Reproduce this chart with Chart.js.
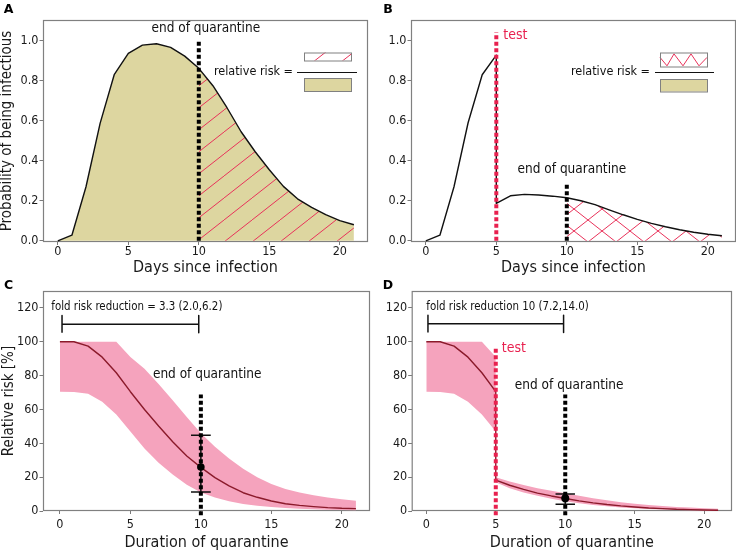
<!DOCTYPE html>
<html>
<head>
<meta charset="utf-8">
<script src="https://cdn.jsdelivr.net/npm/chart.js@4.4.1/dist/chart.umd.min.js"></script>
<style>
  html, body { margin: 0; padding: 0; background: #fff; }
  #wrap { position: relative; width: 736px; height: 552px; }
  #wrap canvas { position: absolute; left: 0; top: 0; }
</style>
</head>
<body>
<div id="wrap">
  <canvas id="pA" width="736" height="552"></canvas>
  <canvas id="pB" width="736" height="552"></canvas>
  <canvas id="pC" width="736" height="552"></canvas>
  <canvas id="pD" width="736" height="552"></canvas>
</div>
<script>
// ---- data ----
const days = [0,1,2,3,4,5,6,7,8,9,10,11,12,13,14,15,16,17,18,19,20,21];
const xTicks = [0, 5, 10, 15, 20];
const probTicks = [0, 0.2, 0.4, 0.6, 0.8, 1.0];
const riskTicks = [0, 20, 40, 60, 80, 100, 120];

const testDay = 5;
const quarantineEnd = 10;

// A: probability of being infectious, no test
const infectious = [0, 0.028, 0.27, 0.587, 0.83, 0.937, 0.978, 0.985, 0.967, 0.923, 0.862,
  0.775, 0.665, 0.545, 0.445, 0.355, 0.272, 0.21, 0.167, 0.131, 0.101, 0.08];

// B: with a test on day 5 (days 0-5, then days 5-21)
const infectiousBeforeTest = [0, 0.028, 0.27, 0.59, 0.83, 0.928];
const infectiousAfterTest = [0.187, 0.225, 0.232, 0.229, 0.223, 0.215, 0.2, 0.181, 0.155,
  0.13, 0.107, 0.087, 0.07, 0.055, 0.043, 0.033, 0.025];

// C: relative risk [%] vs quarantine duration
const riskMedian = [100, 100, 97.4, 90.9, 81.7, 70.5, 60, 50.2, 40.9, 32.5, 25.8,
  19.7, 14.8, 10.8, 8.1, 5.9, 4.3, 3.3, 2.6, 2.0, 1.6, 1.4];
const riskUpper = [100, 100, 100, 100, 100, 91, 84, 75, 65.5, 55.5, 46,
  38, 31, 25, 20, 16, 13, 11, 9.3, 8, 7, 6];
const riskLower = [70.5, 70.3, 69.3, 64.5, 57, 47, 37, 28.5, 21.5, 15.5, 11,
  8, 5.8, 4.2, 3.1, 2.3, 1.7, 1.3, 1, 0.8, 0.6, 0.5];

// D: with test on day 5 (after-test part, days 5-21)
const testMedianAfter = [18.3, 15.2, 12.8, 10.6, 8.9, 7.4, 6, 4.8, 3.8, 3.0, 2.4, 1.8, 1.4, 1.0, 0.8, 0.6, 0.4];
const testUpperAfter = [20, 17.5, 15.4, 13.5, 11.9, 10.5, 9, 7.6, 6.3, 5.2, 4.3, 3.5, 2.9, 2.4, 2, 1.6, 1.3];
const testLowerAfter = [17, 13.5, 11, 9, 7.2, 5.8, 4.6, 3.6, 2.8, 2.1, 1.6, 1.2, 0.9, 0.6, 0.4, 0.3, 0.2];

const foldC = { mid: 26, lo: 11.3, hi: 44.7, text: 'fold risk reduction = 3.3 (2.0,6.2)' };
const foldD = { mid: 7.5, lo: 4, hi: 10, text: 'fold risk reduction 10 (7.2,14.0)' };

// ---- styles ----
const FONT = '"DejaVu Sans Condensed", "DejaVu Sans", sans-serif';
Chart.defaults.font.family = FONT;
Chart.defaults.color = '#1a1a1a';
const KHAKI = '#ddd6a0';
const PINK = '#f5a3bd';
const DARKRED = '#8b1a2b';
const RED = '#e8214f';
const HATCH = '#e8325a';
const CLEAR = 'rgba(0,0,0,0)';

function hatch(cross) {
  const c = document.createElement('canvas');
  c.width = 28; c.height = 22;
  const g = c.getContext('2d');
  g.strokeStyle = HATCH; g.lineWidth = 1;
  g.beginPath();
  g.moveTo(-28, 44); g.lineTo(56, -22);
  if (cross) { g.moveTo(-28, -22); g.lineTo(56, 44); }
  g.stroke();
  return g.createPattern(c, 'repeat');
}
const hatchA = hatch(false);
const hatchB = hatch(true);

const xy = (xs, ys) => ys.map((y, i) => ({ x: xs[i], y: y }));
const vline = (x, y0, y1) => [{ x: x, y: y0 }, { x: x, y: y1 }];
const daysFrom = n => days.filter(d => d >= n);
function errBar(x, e, w) {
  return [{x: x - w, y: e.hi}, {x: x + w, y: e.hi}, {x: x, y: null},
          {x: x, y: e.hi}, {x: x, y: e.lo}, {x: x, y: null},
          {x: x - w, y: e.lo}, {x: x + w, y: e.lo}];
}
function bracket(x0, x1, y, h) {
  return [{x: x0, y: y - h}, {x: x0, y: y + h}, {x: x0, y: y},
          {x: x1, y: y}, {x: x1, y: y + h}, {x: x1, y: y - h}];
}
const dashed = (data, color, order) => ({
  data: data, borderColor: color, borderWidth: 4, borderDash: [4, 2.5],
  borderCapStyle: 'butt', fill: false, order: order, clip: false
});

// ---- plugins ----
const frame = {
  id: 'frame',
  beforeDatasetsDraw(chart) {
    const { ctx, chartArea: a } = chart;
    ctx.save();
    ctx.strokeStyle = '#808080';
    ctx.lineWidth = 1.2;
    ctx.strokeRect(a.left + 0.5, a.top + 0.5, a.right - a.left - 1, a.bottom - a.top - 1);
    ctx.restore();
  }
};

const notes = {
  id: 'notes',
  afterDatasetsDraw(chart, args, o) {
    const { ctx, scales: { x, y } } = chart;
    ctx.save();
    ctx.textBaseline = 'middle';
    (o.texts || []).forEach(t => {
      ctx.font = (t.size || 13.5) + 'px ' + FONT;
      ctx.fillStyle = t.color || '#111';
      ctx.textAlign = t.align || 'center';
      ctx.fillText(t.text, x.getPixelForValue(t.x), y.getPixelForValue(t.y));
    });
    // panel letter
    ctx.font = 'bold 12.5px "DejaVu Sans", sans-serif';
    ctx.fillStyle = '#000';
    ctx.textAlign = 'center';
    ctx.fillText(o.letter[0], o.letter[1], o.letter[2]);
    // relative risk fraction inset
    const r = o.ratio;
    if (r) {
      ctx.font = '12.5px ' + FONT;
      ctx.fillStyle = '#111';
      ctx.textAlign = 'right';
      ctx.fillText('relative risk =', r.textRight, r.textY);
      ctx.strokeStyle = '#111'; ctx.lineWidth = 1;
      ctx.beginPath(); ctx.moveTo(r.line[0], r.line[2]); ctx.lineTo(r.line[1], r.line[2]); ctx.stroke();
      const [tx, ty, tw, th] = r.top;
      ctx.fillStyle = '#fff'; ctx.fillRect(tx, ty, tw, th);
      if (r.zigzag) {
        ctx.strokeStyle = HATCH; ctx.lineWidth = 1;
        ctx.beginPath();
        r.zigzag.forEach((p, i) => i ? ctx.lineTo(tx + p[0], ty + p[1] * th) : ctx.moveTo(tx + p[0], ty + p[1] * th));
        ctx.stroke();
      } else {
        ctx.fillStyle = hatchA; ctx.fillRect(tx, ty, tw, th);
      }
      ctx.strokeStyle = '#808080'; ctx.lineWidth = 1;
      ctx.strokeRect(tx + 0.5, ty + 0.5, tw, th);
      const [bx, by, bw, bh] = r.bottom;
      ctx.fillStyle = KHAKI; ctx.fillRect(bx, by, bw, bh);
      ctx.strokeRect(bx + 0.5, by + 0.5, bw, bh);
    }
    ctx.restore();
  }
};

function axes(o) {
  const tickFont = { size: 12.5 };
  return {
    x: {
      type: 'linear', min: o.xMin, max: 22,
      afterFit: s => { s.height = o.xH; },
      afterBuildTicks: s => { s.ticks = xTicks.map(v => ({ value: v })); },
      grid: { drawOnChartArea: false, color: '#7a7a7a', tickLength: 3 },
      border: { display: false },
      ticks: { autoSkip: false, maxRotation: 0, padding: o.xPad, font: tickFont, color: '#1a1a1a' },
      title: { display: true, text: o.xTitle, font: { size: 16, lineHeight: 1 },
               padding: { top: 0, bottom: o.xTitlePad }, color: '#1a1a1a' }
    },
    y: {
      type: 'linear', min: o.yMin, max: o.yMax,
      afterFit: s => { s.width = o.yW; },
      afterBuildTicks: s => { s.ticks = o.yTicks.map(v => ({ value: v })); },
      grid: { drawOnChartArea: false, color: '#7a7a7a', tickLength: 3.5 },
      border: { display: false },
      ticks: { autoSkip: false, padding: 1, font: tickFont, color: '#1a1a1a', callback: o.fmt },
      title: { display: !!o.yTitle, text: o.yTitle || '', font: { size: 15, lineHeight: 1 },
               padding: { top: o.yTitlePad || 0, bottom: 0 }, color: '#1a1a1a' }
    }
  };
}

function panel(id, datasets, pad, scaleOpts, noteOpts) {
  return new Chart(document.getElementById(id), {
    type: 'line',
    data: { datasets: datasets },
    options: {
      responsive: false,
      animation: false,
      layout: { padding: pad },
      elements: { point: { radius: 0 }, line: { tension: 0, borderJoinStyle: 'round' } },
      plugins: { legend: { display: false }, tooltip: { enabled: false }, notes: noteOpts },
      scales: axes(scaleOpts)
    },
    plugins: [frame, notes]
  });
}

const fmtProb = v => v.toFixed(1);
const fmtRisk = v => String(v);

// ---- A ----
panel('pA', [
  dashed(vline(quarantineEnd, 0, 0.995), '#000', 0),
  { data: xy(days, infectious), borderColor: '#111', borderWidth: 1.4, fill: false, order: 1 },
  { data: xy(days, infectious).filter(p => p.x >= quarantineEnd), borderColor: CLEAR,
    fill: 'origin', backgroundColor: hatchA, order: 2 },
  { data: xy(days, infectious), borderColor: CLEAR, fill: 'origin', backgroundColor: KHAKI, order: 3 }
], { left: 0, right: 368, top: 20, bottom: 276 },
{ xMin: -1.05, yMin: -0.006, yMax: 1.1035, xH: 34, yW: 43, xPad: -1, xTitlePad: 0,
  xTitle: 'Days since infection', yTitle: 'Probability of being infectious', yTitlePad: 0,
  yTicks: probTicks, fmt: fmtProb },
{ letter: ['A', 8.5, 10],
  texts: [{ text: 'end of quarantine', x: 10.5, y: 1.063 }],
  ratio: { textRight: 293, textY: 72, line: [297, 357, 72.5], top: [304, 52.5, 47, 8], bottom: [304, 78, 47, 13] } });

// ---- B ----
const curveB = xy(days.slice(0, testDay + 1), infectiousBeforeTest)
  .concat(xy(daysFrom(testDay), infectiousAfterTest));
panel('pB', [
  dashed(vline(testDay, 0, 1.042), RED, 0),
  dashed(vline(quarantineEnd, 0, 0.29), '#000', 0),
  { data: curveB, borderColor: '#111', borderWidth: 1.4, fill: false, order: 1 },
  { data: xy(daysFrom(testDay), infectiousAfterTest).filter(p => p.x >= quarantineEnd),
    borderColor: CLEAR, fill: 'origin', backgroundColor: hatchB, order: 2 }
], { left: 368, right: 0, top: 20, bottom: 276 },
{ xMin: -1.05, yMin: -0.006, yMax: 1.1035, xH: 34, yW: 43, xPad: -1, xTitlePad: 0,
  xTitle: 'Days since infection', yTicks: probTicks, fmt: fmtProb },
{ letter: ['B', 388, 10],
  texts: [{ text: 'test', x: 5.49, y: 1.028, color: RED, align: 'left', size: 14 },
          { text: 'end of quarantine', x: 10.36, y: 0.357 }],
  ratio: { textRight: 650, textY: 72, line: [655, 714, 72.5], top: [660, 52.5, 47, 14], bottom: [660, 79, 47, 12.5],
           zigzag: [[0, 0.35], [7, 0.95], [14, 0.1], [23, 0.95], [31, 0.1], [39, 0.95], [47, 0.35]] } });

// ---- C ----
panel('pC', [
  dashed(vline(quarantineEnd, -2.5, 68.9), '#000', 0),
  { data: [{ x: quarantineEnd, y: foldC.mid }], showLine: false, pointRadius: 3.8,
    pointBackgroundColor: '#000', pointBorderWidth: 0, order: 0 },
  { data: errBar(quarantineEnd, foldC, 0.7), borderColor: '#111', borderWidth: 1.5, spanGaps: false, order: 0 },
  { data: bracket(0.15, 9.85, 110.4, 5.1), borderColor: '#111', borderWidth: 1.5, order: 0 },
  { data: xy(days, riskMedian), borderColor: DARKRED, borderWidth: 1.4, fill: false, order: 1 },
  { data: xy(days, riskUpper), borderColor: CLEAR, fill: '+1', backgroundColor: PINK, order: 2 },
  { data: xy(days, riskLower), borderColor: CLEAR, fill: false, order: 3 }
], { left: 0, right: 366, top: 291, bottom: 0 },
{ xMin: -1.2, yMin: 0, yMax: 130, xH: 41, yW: 43, xPad: 3, xTitlePad: 1,
  xTitle: 'Duration of quarantine', yTitle: 'Relative risk [%]', yTitlePad: 2,
  yTicks: riskTicks, fmt: fmtRisk },
{ letter: ['C', 8.5, 286],
  texts: [{ text: foldC.text, x: -0.61, y: 120.7, align: 'left', size: 11.4 },
          { text: 'end of quarantine', x: 10.45, y: 80.7 }] });

// ---- D ----
const pre = days.slice(0, testDay + 1);
const post = daysFrom(testDay);
const medianD = xy(pre, riskMedian.slice(0, testDay + 1)).concat(xy(post, testMedianAfter));
panel('pD', [
  dashed(vline(testDay, -2.5, 97.4), RED, 0),
  dashed(vline(quarantineEnd, -2.5, 68.9), '#000', 0),
  { data: [{ x: quarantineEnd, y: foldD.mid }], showLine: false, pointRadius: 4,
    pointBackgroundColor: '#000', pointBorderWidth: 0, order: 0 },
  { data: errBar(quarantineEnd, foldD, 0.7), borderColor: '#111', borderWidth: 1.5, spanGaps: false, order: 0 },
  { data: bracket(0.12, 9.88, 110.6, 5.1), borderColor: '#111', borderWidth: 1.5, order: 0 },
  { data: medianD, borderColor: DARKRED, borderWidth: 1.4, fill: false, order: 1 },
  { data: xy(pre, riskUpper.slice(0, testDay + 1)), borderColor: CLEAR, fill: '+1', backgroundColor: PINK, order: 2 },
  { data: xy(pre, riskLower.slice(0, testDay + 1)), borderColor: CLEAR, fill: false, order: 3 },
  { data: xy(post, testUpperAfter), borderColor: CLEAR, fill: '+1', backgroundColor: PINK, order: 2 },
  { data: xy(post, testLowerAfter), borderColor: CLEAR, fill: false, order: 3 }
], { left: 368, right: 0, top: 291, bottom: 0 },
{ xMin: -1.05, yMin: 0, yMax: 130, xH: 41, yW: 43.7, xPad: 3, xTitlePad: 1,
  xTitle: 'Duration of quarantine', yTicks: riskTicks, fmt: fmtRisk },
{ letter: ['D', 388, 286],
  texts: [{ text: foldD.text, x: 0, y: 120.7, align: 'left', size: 11.4 },
          { text: 'test', x: 5.43, y: 95.9, color: RED, align: 'left', size: 14 },
          { text: 'end of quarantine', x: 10.28, y: 74.4 }] });
</script>
</body>
</html>
